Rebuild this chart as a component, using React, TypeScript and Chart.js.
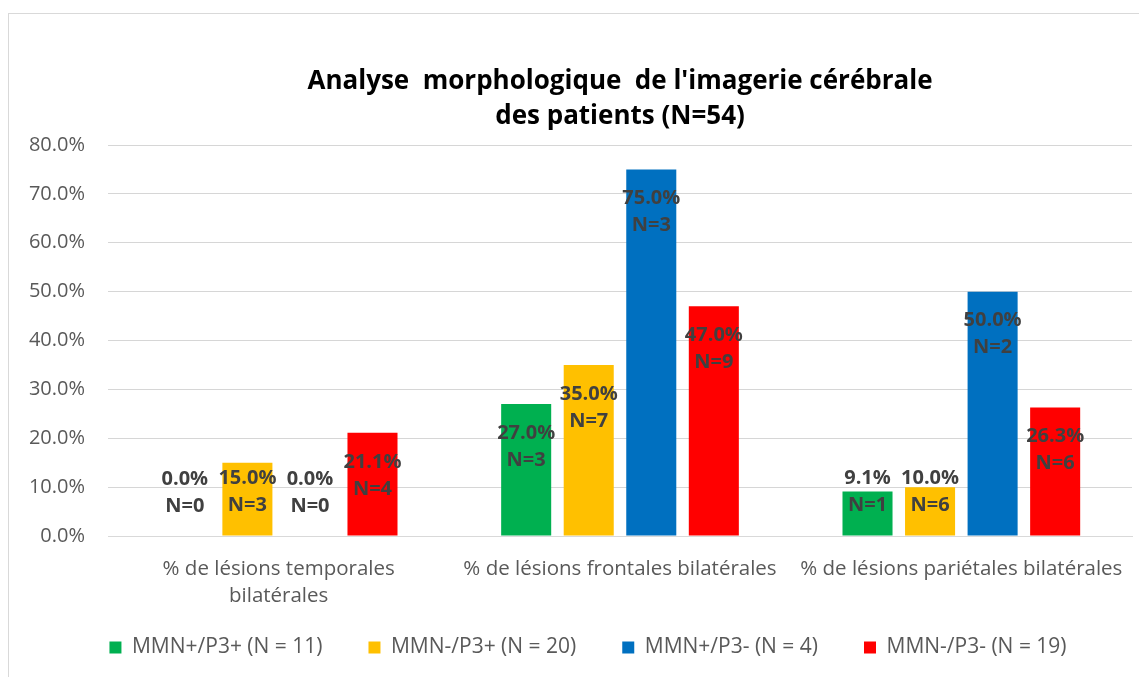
import React, { useEffect, useRef } from "react";
import { Chart, registerables } from "chart.js";

Chart.register(...registerables);

const categories: string[][] = [
  ["% de lésions temporales", "bilatérales"],
  ["% de lésions frontales bilatérales"],
  ["% de lésions pariétales bilatérales"],
];

const seriesNames = [
  "MMN+/P3+ (N = 11)",
  "MMN-/P3+ (N = 20)",
  "MMN+/P3- (N = 4)",
  "MMN-/P3- (N = 19)",
];
const seriesColors = ["#00b050", "#ffc000", "#0070c0", "#ff0000"];

const valuesA = [0.0, 27.0, 9.1];
const valuesB = [15.0, 35.0, 10.0];
const valuesC = [0.0, 75.0, 50.0];
const valuesD = [21.1, 47.0, 26.3];

const countsA = [0, 3, 1];
const countsB = [3, 7, 6];
const countsC = [0, 3, 2];
const countsD = [4, 9, 6];

const titleLines = ["Analyse  morphologique  de l'imagerie cérébrale", "des patients (N=54)"];

const FONT = "'Open Sans', 'DejaVu Sans', sans-serif";

const barLabelPlugin = {
  id: "barLabels",
  afterDatasetsDraw(chart: any) {
    const ctx = chart.ctx;
    ctx.save();
    ctx.font = `bold 20px ${FONT}`;
    ctx.fillStyle = "#404040";
    ctx.textAlign = "center";
    ctx.textBaseline = "middle";
    chart.data.datasets.forEach((ds: any, di: number) => {
      const meta = chart.getDatasetMeta(di);
      meta.data.forEach((bar: any, i: number) => {
        const v = ds.data[i];
        const n = ds.counts[i];
        let l1 = bar.y + 29;
        let l2 = l1 + 27;
        const maxL2 = bar.base - 30;
        if (l2 > maxL2) {
          l2 = maxL2;
          l1 = l2 - 27;
        }
        ctx.fillText(v.toFixed(1) + "%", bar.x, l1);
        ctx.fillText("N=" + n, bar.x, l2);
      });
    });
    ctx.restore();
  },
};

const noLabelClip = (s: any) => {
  s._computeLabelArea = () => undefined;
};

export default function App() {
  const ref = useRef<HTMLCanvasElement | null>(null);
  useEffect(() => {
    if (!ref.current) return;
    const values = [valuesA, valuesB, valuesC, valuesD];
    const counts = [countsA, countsB, countsC, countsD];
    const chart = new Chart(ref.current, {
      type: "bar",
      data: {
        labels: categories,
        datasets: seriesNames.map((name, i) => ({
          label: name,
          data: values[i],
          counts: counts[i],
          backgroundColor: seriesColors[i],
          borderWidth: 0,
          categoryPercentage: 0.733,
          barPercentage: 0.8,
        })) as any,
      },
      options: {
        animation: false,
        responsive: false,
        layout: { padding: { left: 36, right: 15, top: 0, bottom: 9 } },
        plugins: {
          tooltip: { enabled: false },
          title: {
            display: true,
            text: titleLines,
            fullSize: false,
            color: "#000000",
            font: { family: FONT, size: 26, weight: "bold", lineHeight: 35 / 26 },
            padding: { top: 56.5, bottom: 10.5 },
          },
          legend: {
            position: "bottom",
            labels: {
              boxWidth: 12,
              boxHeight: 12,
              padding: 46,
              color: "#595959",
              font: { family: FONT, size: 21 },
            },
          },
        },
        scales: {
          x: {
            grid: { display: false },
            border: { display: true, color: "#d9d9d9", width: 1 },
            ticks: {
              color: "#595959",
              font: { family: FONT, size: 20.5, lineHeight: 27 / 20.5 },
              padding: 12,
              maxRotation: 0,
              autoSkip: false,
            },
            afterFit: (s: any) => {
              s.height = 55;
              noLabelClip(s);
            },
          },
          y: {
            min: 0,
            max: 80,
            grid: { color: "#d6d6d6", lineWidth: 1, drawTicks: false },
            border: { display: false },
            ticks: {
              stepSize: 10,
              color: "#595959",
              font: { family: FONT, size: 20 },
              padding: 23,
              callback: (v: any) => Number(v).toFixed(1) + "%",
            },
            afterFit: (s: any) => {
              s.width = 64;
              noLabelClip(s);
            },
          },
        },
      },
      plugins: [barLabelPlugin],
    });
    return () => chart.destroy();
  }, []);

  return (
    <div style={{ position: "relative", width: 1139, height: 669, overflow: "hidden" }}>
      <div
        style={{
          position: "absolute",
          left: 0,
          top: 5,
          width: 1400,
          height: 900,
          border: "1px solid #d9d9d9",
          boxSizing: "border-box",
        }}
      />
      <canvas
        ref={ref}
        width={1139}
        height={669}
        style={{ position: "absolute", left: 0, top: 0, width: 1139, height: 669 }}
      />
    </div>
  );
}
